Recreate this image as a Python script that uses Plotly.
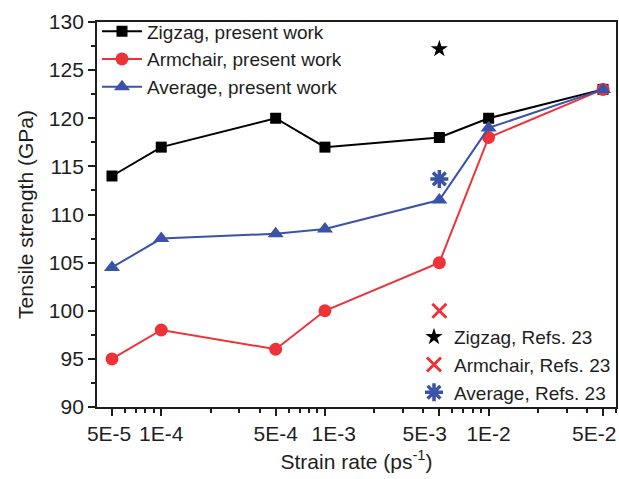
import plotly.graph_objects as go

# Strain rates (ps^-1) and tensile strengths (GPa)
strain_rate = [5e-5, 1e-4, 5e-4, 1e-3, 5e-3, 1e-2, 5e-2]
zigzag = [114, 117, 120, 117, 118, 120, 123]
armchair = [95, 98, 96, 100, 105, 118, 123]
average = [104.5, 107.5, 108, 108.5, 111.5, 119, 123]

# Reference values (Refs. 23)
ref_rate = [5e-3]
ref_zigzag = [127.2]
ref_armchair = [100]
ref_average = [113.7]

tick_vals = [5e-5, 1e-4, 5e-4, 1e-3, 5e-3, 1e-2, 5e-2]
tick_text = ["5E-5", "1E-4", "5E-4", "1E-3", "5E-3", "1E-2", "5E-2"]

BLACK = "#000000"
RED = "#ee3338"
BLUE = "#3a52a8"
TEXT = "#1e1e1e"
NB = "\u00a0"

# nudge a few crowded labels sideways with non-breaking spaces
label_pad = {"5E-5": (0, 1), "1E-3": (3, 0), "5E-3": (0, 5), "5E-2": (0, 3)}
tick_labels = []
for t in tick_text:
    lead, trail = label_pad.get(t, (0, 0))
    tick_labels.append(NB * lead + t + NB * trail)

minor_vals = []
for e in (-5, -4, -3, -2):
    for m in range(2, 10):
        v = m * 10 ** e
        if 3.5e-5 < v < 7e-2 and m != 5:
            minor_vals.append(v)

fig = go.Figure()

fig.add_trace(go.Scatter(x=strain_rate, y=zigzag, mode="lines+markers",
                         name="Zigzag, present work",
                         line=dict(color=BLACK, width=2),
                         marker=dict(symbol="square", size=11, color=BLACK),
                         legend="legend"))
fig.add_trace(go.Scatter(x=strain_rate, y=armchair, mode="lines+markers",
                         name="Armchair, present work",
                         line=dict(color=RED, width=2),
                         marker=dict(symbol="circle", size=13, color=RED),
                         legend="legend"))
fig.add_trace(go.Scatter(x=strain_rate, y=average, mode="lines+markers",
                         name="Average, present work",
                         line=dict(color=BLUE, width=2),
                         marker=dict(symbol="triangle-up", size=14, color=BLUE),
                         legend="legend"))

fig.add_trace(go.Scatter(x=ref_rate, y=ref_zigzag, mode="markers",
                         name="Zigzag, Refs. 23",
                         marker=dict(symbol="star", size=13, color=BLACK),
                         legend="legend2"))
fig.add_trace(go.Scatter(x=ref_rate, y=ref_armchair, mode="markers",
                         name="Armchair, Refs. 23",
                         marker=dict(symbol="x-thin-open", size=14, color=RED,
                                     line=dict(color=RED, width=3)),
                         legend="legend2"))
fig.add_trace(go.Scatter(x=ref_rate, y=ref_average, mode="markers",
                         name="Average, Refs. 23",
                         marker=dict(symbol="asterisk-open", size=15, color=BLUE,
                                     line=dict(color=BLUE, width=3.5)),
                         legend="legend2"))

FAMILY = "Liberation Sans, Arial, sans-serif"
tick_font = dict(family=FAMILY, size=21, color=TEXT)

fig.update_layout(
    width=619, height=479,
    margin=dict(l=97, r=3, t=22, b=72),
    paper_bgcolor="white", plot_bgcolor="white",
    font=dict(family=FAMILY, color=TEXT),
    xaxis=dict(type="log", range=[-4.3926, -1.2217], automargin=False,
               tickmode="array", tickvals=tick_vals, ticktext=tick_labels,
               tickangle=0,
               tickfont=tick_font, ticks="outside", ticklen=7, tickwidth=1.5,
               tickcolor=TEXT, ticklabeloverflow="allow",
               minor=dict(tickmode="array", tickvals=minor_vals, ticks="outside",
                          ticklen=4, tickwidth=1.5, tickcolor=TEXT),
               showline=True, linecolor=TEXT, linewidth=1.8, mirror=True,
               showgrid=False, zeroline=False,
               title=dict(text="Strain rate (ps<sup>-1</sup>)",
                          font=dict(size=21, color=TEXT), standoff=10)),
    yaxis=dict(range=[90, 130], tickmode="linear", tick0=90, dtick=5,
               automargin=False,
               tickfont=tick_font, ticks="outside", ticklen=7, tickwidth=1.5,
               tickcolor=TEXT,
               minor=dict(dtick=2.5, ticks="outside", ticklen=4, tickwidth=1.5,
                          tickcolor=TEXT),
               showline=True, linecolor=TEXT, linewidth=1.8, mirror=True,
               showgrid=False, zeroline=False,
               title=dict(text="Tensile strength (GPa)",
                          font=dict(size=21, color=TEXT), standoff=10)),
    legend=dict(x=0.0, y=1.025, xanchor="left", yanchor="top",
                bgcolor="rgba(0,0,0,0)", font=dict(size=19, color=TEXT),
                tracegroupgap=0, itemwidth=40),
    legend2=dict(x=1.0, y=-0.013, xanchor="right", yanchor="bottom",
                 bgcolor="rgba(0,0,0,0)", font=dict(size=19, color=TEXT),
                 tracegroupgap=0, itemwidth=30),
)

fig.write_html("out.html")
